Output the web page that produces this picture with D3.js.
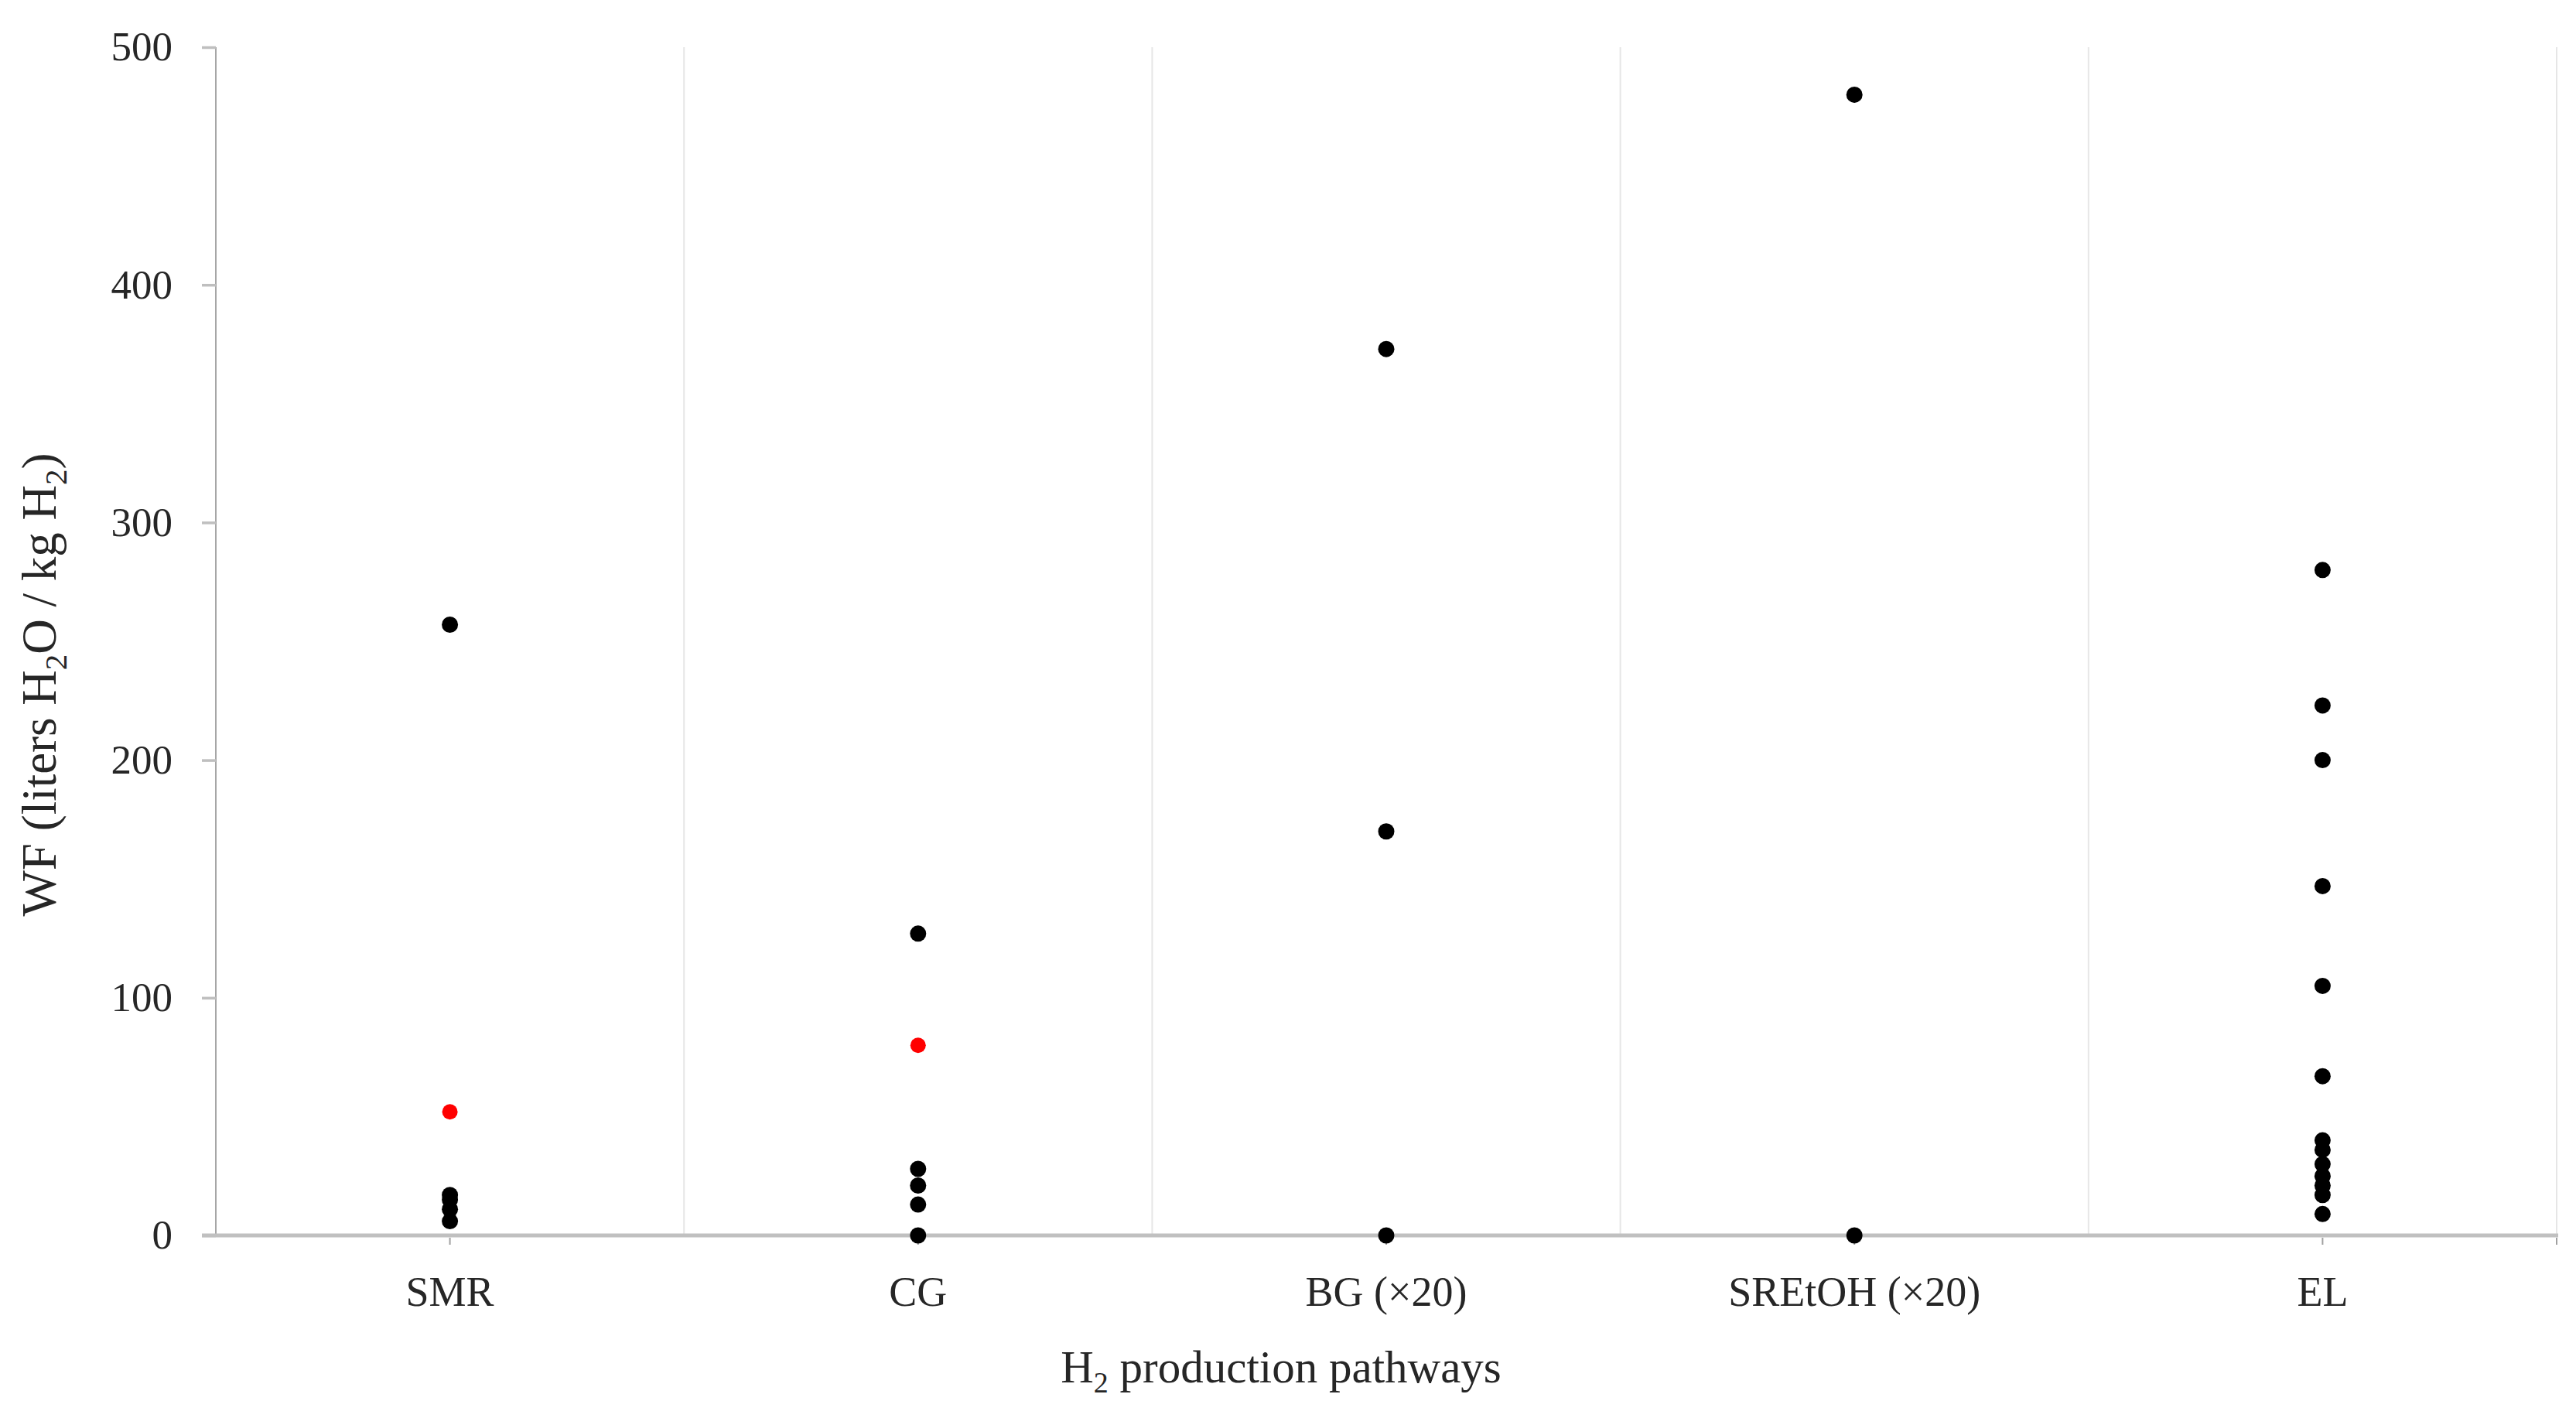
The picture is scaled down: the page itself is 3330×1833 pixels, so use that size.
<!DOCTYPE html>
<html>
<head>
<meta charset="utf-8">
<script src="https://cdn.jsdelivr.net/npm/d3@7"></script>
<style>
  html, body { margin: 0; padding: 0; background: #ffffff; }
  svg { display: block; }
  text { font-family: "Liberation Serif", "DejaVu Serif", serif; fill: #262626; }
</style>
</head>
<body>
<svg id="chart" width="3330" height="1833"></svg>
<script>
// ---- Data ----
const categories = ["SMR", "CG", "BG (×20)", "SREtOH (×20)", "EL"];
const smrValues = [257, 17, 15, 11, 6];
const cgValues = [127, 28, 21, 13, 0];
const bgValues = [373, 170, 0];
const sretohValues = [480, 0];
const elValues = [280, 223, 200, 147, 105, 67, 40, 36, 30, 25, 21, 17, 9];
const highlightValues = [52, 80, null, null, null]; // red points
const yTicks = [0, 100, 200, 300, 400, 500];

const seriesValues = [smrValues, cgValues, bgValues, sretohValues, elValues];

(function () {
  // ---- Layout ----
  const mLeft = 279, mRight = 3305, mTop = 61, mBottom = 1597;

  const svg = d3.select("#chart");

  const x = d3.scaleBand().domain(categories).range([mLeft, mRight]).padding(0);
  const y = d3.scaleLinear().domain([0, 500]).range([mBottom, mTop]);

  // vertical gridlines at category boundaries
  const bounds = categories.map(c => x(c) + x.bandwidth());
  svg.append("g").selectAll("line").data(bounds).join("line")
    .attr("x1", d => d).attr("x2", d => d)
    .attr("y1", mTop).attr("y2", mBottom)
    .attr("stroke", "#e6e6e6").attr("stroke-width", 2);

  // Y axis
  const yAxis = svg.append("g")
    .attr("transform", `translate(${mLeft},0)`)
    .call(d3.axisLeft(y).tickValues(yTicks).tickSize(18).tickPadding(38).tickFormat(d3.format("d")));
  yAxis.select(".domain").attr("stroke", "#a6a6a6").attr("stroke-width", 2)
    .attr("d", `M0,${mTop}V${mBottom}`);
  yAxis.selectAll(".tick line").attr("stroke", "#bfbfbf").attr("stroke-width", 3.5);
  yAxis.selectAll(".tick text").attr("font-size", 53).attr("fill", "#262626")
    .style("font-family", '"Liberation Serif", serif');

  // X axis
  const xAxis = svg.append("g")
    .attr("transform", `translate(0,${mBottom})`)
    .call(d3.axisBottom(x).tickSize(12).tickSizeOuter(0));
  xAxis.select(".domain").remove();
  svg.append("line")
    .attr("x1", mLeft - 18).attr("x2", mRight + 2)
    .attr("y1", mBottom).attr("y2", mBottom)
    .attr("stroke", "#c0c0c0").attr("stroke-width", 5);
  xAxis.selectAll(".tick line").attr("stroke", "#a0a0a0").attr("stroke-width", 2).attr("y1", 3);
  xAxis.selectAll(".tick text")
    .attr("y", 91).attr("dy", 0)
    .attr("font-size", 54).attr("fill", "#262626")
    .style("font-family", '"Liberation Serif", serif');
  // end tick at right boundary
  svg.append("line")
    .attr("x1", mRight).attr("x2", mRight)
    .attr("y1", mBottom + 3).attr("y2", mBottom + 12)
    .attr("stroke", "#a0a0a0").attr("stroke-width", 2);

  // Points
  const pts = [];
  seriesValues.forEach((vals, i) => vals.forEach(v => pts.push({ c: categories[i], v: v, red: false })));
  highlightValues.forEach((v, i) => { if (v !== null) pts.push({ c: categories[i], v: v, red: true }); });

  svg.append("g").selectAll("circle").data(pts).join("circle")
    .attr("cx", d => x(d.c) + x.bandwidth() / 2)
    .attr("cy", d => y(d.v))
    .attr("r", d => d.red ? 10 : 10.5)
    .attr("fill", d => d.red ? "#ff0000" : "#000000");

  // Axis titles
  const xt = svg.append("text")
    .attr("x", 1656).attr("y", 1787)
    .attr("text-anchor", "middle")
    .attr("font-size", 59);
  xt.append("tspan").text("H");
  xt.append("tspan").text("2").attr("font-size", 38).attr("dy", 13);
  xt.append("tspan").text(" production pathways").attr("dy", -13);

  const yt = svg.append("text")
    .attr("transform", "translate(72,885) rotate(-90)")
    .attr("text-anchor", "middle")
    .attr("font-size", 63);
  yt.append("tspan").text("WF (liters H");
  yt.append("tspan").text("2").attr("font-size", 41).attr("dy", 14);
  yt.append("tspan").text("O / kg H").attr("dy", -14);
  yt.append("tspan").text("2").attr("font-size", 41).attr("dy", 14);
  yt.append("tspan").text(")").attr("dy", -14);
})();
</script>
</body>
</html>
